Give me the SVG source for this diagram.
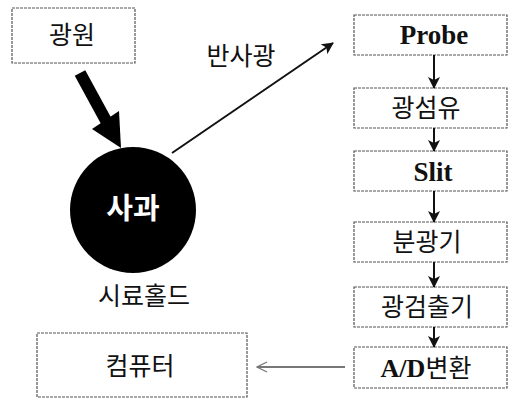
<svg xmlns="http://www.w3.org/2000/svg" width="509" height="400" viewBox="0 0 509 400">
<style>
.box{fill:#fff;stroke:#555;stroke-width:1.2;stroke-dasharray:3 1}
.ko{font-family:"Noto Sans CJK KR","Noto Sans",sans-serif;font-size:25px;fill:#111;text-anchor:middle}
.en{font-family:"Liberation Serif",serif;font-weight:bold;font-size:27px;fill:#111;text-anchor:middle}
.ln{stroke:#111;stroke-width:2;fill:none}
</style>
<defs>
<marker id="ah" markerWidth="12" markerHeight="12" refX="11" refY="6" orient="auto" markerUnits="userSpaceOnUse">
<path d="M0,0 L12,6 L0,12 L3,6 Z" fill="#111"/>
</marker>
<marker id="oh" markerWidth="12" markerHeight="12" refX="11" refY="6" orient="auto" markerUnits="userSpaceOnUse">
<path d="M1,1 L11,6 L1,11" fill="none" stroke="#777" stroke-width="1.3"/>
</marker>
</defs>
<rect width="509" height="400" fill="#fff"/>
<g id="node-light">
<rect class="box" x="12" y="8" width="123" height="55"/>
<text class="ko" x="72" y="44">광원</text>
</g>
<g id="node-apple">
<circle cx="133" cy="210" r="63" fill="#000"/>
<text x="133" y="219" text-anchor="middle" font-family="'Noto Sans CJK KR',sans-serif" font-weight="bold" font-size="29" fill="#fff">사과</text>
</g>
<g id="label-holder">
<text class="ko" x="144" y="305">시료홀드</text>
</g>
<g id="label-reflect">
<text class="ko" x="241" y="65">반사광</text>
</g>
<g id="node-probe">
<rect class="box" x="354" y="15" width="153" height="40"/>
<text class="en" x="434" y="44">Probe</text>
</g>
<g id="node-fiber">
<rect class="box" x="354" y="88" width="153" height="40"/>
<text class="ko" x="426" y="117">광섬유</text>
</g>
<g id="node-slit">
<rect class="box" x="354" y="151" width="153" height="40"/>
<text class="en" x="433" y="181">Slit</text>
</g>
<g id="node-spectro">
<rect class="box" x="354" y="222" width="153" height="40"/>
<text class="ko" x="427" y="251">분광기</text>
</g>
<g id="node-detector">
<rect class="box" x="354" y="287" width="153" height="40"/>
<text class="ko" x="427" y="316">광검출기</text>
</g>
<g id="node-ad">
<rect class="box" x="354" y="347" width="153" height="41"/>
<text x="426" y="377" text-anchor="middle" fill="#111"><tspan font-family="'Liberation Serif',serif" font-weight="bold" font-size="26">A/D</tspan><tspan font-family="'Noto Sans CJK KR',sans-serif" font-size="25">변환</tspan></text>
</g>
<g id="node-computer">
<rect class="box" x="37" y="333" width="210" height="64"/>
<text class="ko" x="140" y="375">컴퓨터</text>
</g>
<g id="connectors">
<line x1="80" y1="73" x2="110" y2="128" stroke="#000" stroke-width="12"/>
<path d="M92,129 L119,111 L121,148 Z" fill="#000"/>
<line class="ln" x1="172" y1="153" x2="333" y2="43" marker-end="url(#ah)"/>
<line class="ln" x1="434" y1="55" x2="434" y2="88" marker-end="url(#ah)"/>
<line class="ln" x1="434" y1="128" x2="434" y2="151" marker-end="url(#ah)"/>
<line class="ln" x1="434" y1="191" x2="434" y2="222" marker-end="url(#ah)"/>
<line class="ln" x1="434" y1="262" x2="434" y2="287" marker-end="url(#ah)"/>
<line class="ln" x1="434" y1="327" x2="434" y2="347" marker-end="url(#ah)"/>
<line x1="345" y1="367" x2="257" y2="367" stroke="#777" stroke-width="2" marker-end="url(#oh)"/>
</g>
</svg>
